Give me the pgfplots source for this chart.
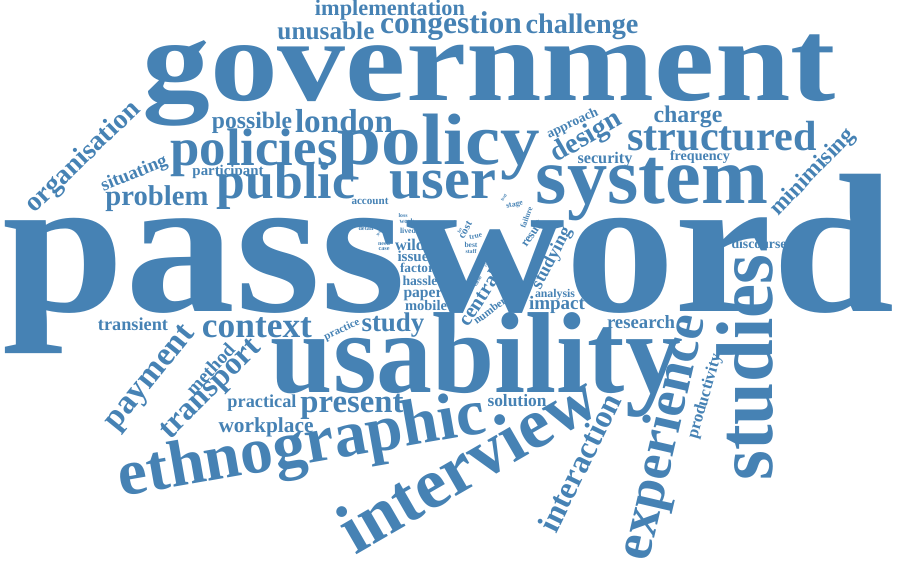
\documentclass[border=0pt]{standalone}
\usepackage{pgfplots}
\pgfplotsset{compat=1.18}
\usepackage{pgfplotstable}
\usepackage{graphicx}
\usepackage{fontspec}
\setmainfont{Liberation Serif}
\definecolor{wc}{RGB}{70,130,180}
\pgfplotstableread{
x y w r s word
449 311 892 0 0.9 password
489 100 693 0 0.86 government
476 392 410 0 1.03 usability
652 203 232 0 1 system
443 198 107 0 1 user
439 164 202 0 0.92 policy
254 165 167 0 1 policies
286 198 138 0 1 public
772 367 226 90 1.05 studies
677 440 251 77 1 experience
479 483 286 30 1 interview
305 464 372 10 1 ethnographic
589 467 150 64 1 interaction
722 150 189 0 1 structured
590 143 78 30 1 design
688 122 69 0 1 charge
817 176 112 46 1 minimising
759 248 55 0 1 discourse
605 163 55 0 1 security
700 160 60 0 1 frequency
574 126 55 25 1 approach
88 162 148 44 1 organisation
136 178 70 22 1 situating
228 175 71 0 1 participant
157 205 103 0 1 problem
252 128 80 0 1 possible
344 132 98 0 1 london
326 39 97 0 1 unusable
390 15 150 0 1 implementation
451 33 142 0 1 congestion
582 33 113 0 1 challenge
370 204 37 0 1 account
133 330 70 0 1 transient
257 337 110 0 1 context
343 332 38 25 1 practice
393 331 63 0 1 study
156 382 125 51 1 payment
215 373 62 47 1 method
216 394 130 45 1 transport
262 407 69 0 1 practical
352 412 103 0 1 present
266 432 95 0 1 workplace
517 406 59 0 1 solution
641 328 68 0 1 research
709 397 88 74 1 productivity
557 309 56 0 1 impact
555 297 40 0 1 analysis
485 301 62 57 1 central
492 313 38 37 1 number
426 310 42 0 1 mobile
423 297 39 0 1 paper
420 285 35 0 1 hassle
417 272 34 0 1 factor
413 261 31 0 1 issue
410 250 30 0 1 wild
408 233 16 0 1 lived
407 223 15 0 1 work
403 217 9 0 1 loss
366 230 15 0 1 detail
380 233 8 60 1 year
384 245 12 0 1 need
384 250 11 0 1 case
456 223 4 70 1 fit
461 231 5 60 1 lot
468 231 18 60 1 cost
476 238 13 10 1 true
471 247 13 0 1 best
471 253 11 0 1 staff
505 198 8 60 1 food
515 206 17 15 1 stage
529 218 22 70 1 failure
535 235 30 56 1 result
488 263 8 70 1 time
479 282 12 60 1 value
556 260 67 62 1 studying
}\words
\pgfplotstablegetrowsof{\words}
\pgfmathtruncatemacro{\lastrow}{\pgfplotsretval-1}
\begin{document}
\begin{tikzpicture}
\begin{axis}[
  scale only axis, width=900pt, height=563pt,
  xmin=0, xmax=900, ymin=0, ymax=563, y dir=reverse,
  hide axis, clip=false,
]
\addplot[draw=none, mark=none, forget plot] coordinates {(0,0) (900,563)};
\pgfplotsforeachungrouped \i in {0,...,\lastrow}{%
  \pgfplotstablegetelem{\i}{x}\of\words \let\cx\pgfplotsretval
  \pgfplotstablegetelem{\i}{y}\of\words \let\cy\pgfplotsretval
  \pgfplotstablegetelem{\i}{w}\of\words \let\cw\pgfplotsretval
  \pgfplotstablegetelem{\i}{r}\of\words \let\crot\pgfplotsretval
  \pgfplotstablegetelem{\i}{s}\of\words \let\cs\pgfplotsretval
  \pgfplotstablegetelem{\i}{word}\of\words \let\cword\pgfplotsretval
  \edef\cmd{\noexpand\addplot[only marks, mark=none, forget plot,
    nodes near coords={\noexpand\scalebox{1}[\cs]{\noexpand\resizebox{\cw pt}{!}{\cword}}},
    every node near coord/.append style={anchor=base, rotate=\crot, inner sep=0pt, outer sep=0pt, text=wc, font=\noexpand\bfseries}]
    coordinates {(\cx,\cy)};}%
  \cmd
}
\end{axis}
\end{tikzpicture}
\end{document}
